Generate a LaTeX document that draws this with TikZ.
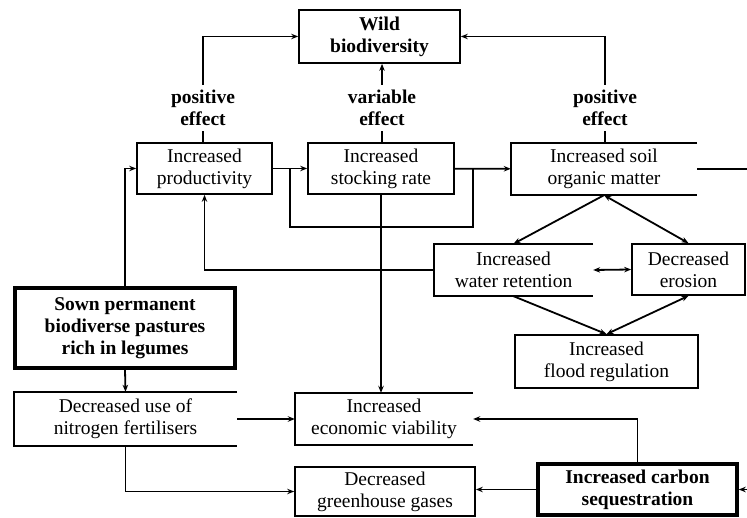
\documentclass[tikz,border=0pt]{standalone}
\usepackage{fontspec}
\setmainfont{Liberation Serif}
\usetikzlibrary{arrows.meta}
\begin{document}
\begin{tikzpicture}[x=1pt,y=-1pt,
  every node/.style={font=\fontsize{19.5}{22}\selectfont, align=center, inner sep=0pt},
  box/.style={draw, line width=1.7pt, minimum width=#1},
  plain/.style={minimum width=#1},
  thickbox/.style={draw, line width=3.6pt, minimum width=#1},
  lab/.style={font=\fontsize{19.5}{22}\selectfont\bfseries, inner sep=5pt},
  conn/.style={line width=1.8pt},
  arr/.style={conn, -{Stealth[length=7pt,width=5.5pt]}},
  darr/.style={conn, {Stealth[length=7pt,width=5.5pt]}-{Stealth[length=7pt,width=5.5pt]}}
]
\useasboundingbox[fill=white] (0,0) rectangle (747,518);

% nodes
\node[box=161, minimum height=53, font=\fontsize{19.5}{22}\selectfont\bfseries] (wild) at (379.5,36.5) {Wild\\biodiversity};
\node[box=135, minimum height=51] (prod) at (204.5,168.5) {Increased\\productivity};
\node[box=146, minimum height=51] (stock) at (381,168.5) {Increased\\stocking rate};
\node[plain=186, minimum height=52] (soil) at (604,169) {Increased soil\\organic matter};
\node[plain=159, minimum height=52] (water) at (513.5,270) {Increased\\water retention};
\node[box=113, minimum height=51] (eros) at (688.5,269.5) {Decreased\\erosion};
\node[box=183, minimum height=53] (flood) at (606.5,361.5) {Increased\\flood regulation};
\node[thickbox=220, minimum height=80, font=\fontsize{19.5}{22}\selectfont\bfseries] (sown) at (125,328) {Sown permanent\\biodiverse pastures\\rich in legumes};
\node[plain=223, minimum height=54] (nitro) at (125.5,419) {Decreased use of\\nitrogen fertilisers};
\node[plain=178, minimum height=52] (econ) at (384,419) {Increased\\economic viability};
\node[box=180, minimum height=49] (green) at (385,491.5) {Decreased\\greenhouse gases};
\node[thickbox=199, minimum height=51, font=\fontsize{19.5}{22}\selectfont\bfseries] (carbon) at (637.5,489.5) {Increased carbon\\sequestration};

% open boxes (right border missing)
\foreach \n in {soil,water,nitro,econ}{
  \draw[line width=1.7pt] (\n.north east) -- (\n.north west) -- (\n.south west) -- (\n.south east);
}

% labels
\node[lab] (l1) at (203,108) {positive\\effect};
\node[lab] (l2) at (382,108) {variable\\effect};
\node[lab] (l3) at (605,108) {positive\\effect};

% to wild biodiversity
\draw[conn] (l1.south |- prod.north) -- (l1.south);
\draw[arr] (l1.north) |- (wild.west);
\draw[conn] (l2.south |- stock.north) -- (l2.south);
\draw[arr] (l2.north) -- (wild.south -| l2.north);
\draw[conn] (l3.south |- soil.north) -- (l3.south);
\draw[arr] (l3.north) |- (wild.east);

% productivity chain
\draw[arr] (prod) -- (stock);
\draw[arr] (stock) -- (soil);
\coordinate (j1) at (290,168.5);
\coordinate (j2) at (473,168.5);
\draw[conn] (j1) -- (290,227) -- (473,227) -- (j2);

% off-image connectors on the right
\coordinate (re1) at (747,169);
\draw[conn] (soil.east) -- (re1);
\coordinate (re2) at (747,489.5);
\draw[arr] (re2) -- (carbon.east);

% soil cluster
\draw[arr] (soil.south) -- (water.north);
\draw[darr] (soil.south) -- (eros.north);
\draw[darr] (water.east) -- (eros.west);
\draw[arr] (water.south) -- (flood.north);
\draw[darr] (eros.south) -- (flood.north);
\draw[arr] (water.west) -| (prod.south);

% sown pastures
\draw[arr] (sown.north) |- (prod.west);
\draw[arr] (sown.south) -- (nitro.north);
\draw[arr] (nitro.east) -- (econ.west);
\draw[arr] (nitro.south) |- (green.west);

% stocking rate to economy
\draw[arr] (stock.south) -- (stock.south |- econ.north);

% carbon
\draw[arr] (carbon.north) |- (econ.east);
\draw[arr] (carbon.west) -- (carbon.west -| green.east);
\end{tikzpicture}
\end{document}
